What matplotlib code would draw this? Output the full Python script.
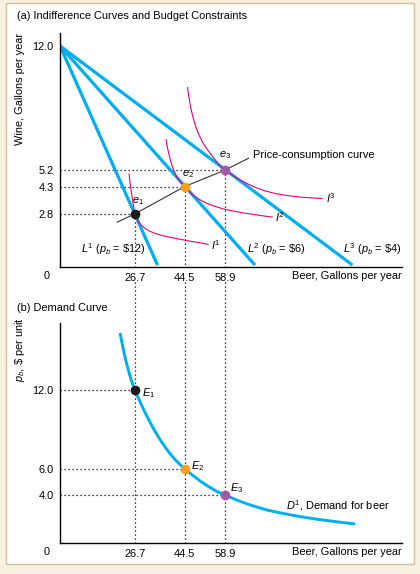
import matplotlib.pyplot as plt
from matplotlib.patches import Rectangle

plt.rcParams["font.family"] = ["Liberation Sans", "DejaVu Sans"]
plt.rcParams["mathtext.fontset"] = "custom"
plt.rcParams["mathtext.rm"] = "Liberation Sans"
plt.rcParams["mathtext.it"] = "Liberation Sans:italic"

# ---- panel (a) data ----
wine_max = 12.0
prices = [12, 6, 4]
beer_q = [26.7, 44.5, 58.9]
wine_q = [2.8, 4.3, 5.2]
beer_intercepts = [34.8, 69.6, 104.4]

i1_beer = [24.64, 25.11, 25.57, 26.0, 26.39, 26.7, 27.25, 27.96, 28.93, 30.18, 31.79,
           33.93, 36.43, 39.29, 42.86, 46.43, 50.0, 52.86]
i1_wine = [4.98, 4.38, 3.89, 3.48, 3.11, 2.80, 2.58, 2.38, 2.20, 2.03, 1.87,
           1.73, 1.62, 1.52, 1.41, 1.31, 1.22, 1.13]
i2_beer = [37.86, 38.39, 39.04, 39.82, 40.79, 41.89, 43.14, 44.5, 45.89, 47.5, 49.64,
           52.14, 55.0, 58.21, 61.79, 65.71, 70.0, 73.57, 75.71]
i2_wine = [6.87, 6.41, 5.97, 5.53, 5.12, 4.76, 4.53, 4.30, 4.06, 3.83, 3.60,
           3.40, 3.23, 3.08, 2.96, 2.85, 2.75, 2.67, 2.63]
i3_beer = [45.54, 46.07, 46.71, 47.5, 48.46, 49.64, 51.07, 52.75, 54.64, 56.79, 58.9,
           61.07, 63.57, 66.43, 69.64, 73.21, 77.14, 81.43, 86.07, 90.71, 93.57]
i3_wine = [9.72, 9.15, 8.60, 8.08, 7.58, 7.12, 6.68, 6.30, 5.91, 5.50, 5.20,
           4.97, 4.73, 4.49, 4.26, 4.06, 3.91, 3.80, 3.72, 3.67, 3.64]

pcc_beer = [20.4, 26.7, 44.5, 58.9, 67.3]
pcc_wine = [2.35, 2.8, 4.3, 5.2, 5.85]

# ---- panel (b) data ----
demand_beer = [21.43, 22.49, 23.54, 24.6, 25.66, 26.7, 28.49, 30.27, 32.05, 33.83, 35.61,
               37.39, 39.16, 40.94, 42.72, 44.5, 47.39, 50.27, 53.16, 56.04, 58.9,
               63.21, 67.86, 73.57, 79.64, 85.71, 91.79, 98.57, 105.36]
demand_price = [16.34, 15.21, 14.21, 13.35, 12.61, 12.0, 11.13, 10.32, 9.57, 8.88, 8.26,
                7.69, 7.18, 6.73, 6.34, 6.0, 5.49, 5.03, 4.62, 4.26, 4.0,
                3.60, 3.24, 2.87, 2.59, 2.35, 2.15, 1.96, 1.79]

BLUE = "#00AEEF"
PINK = "#E5007E"
DOT_COLORS = ["#1a1a1a", "#F7A11A", "#A05AA8"]
FS = 7.9
W, H = 420, 574

fig = plt.figure(figsize=(W / 100, H / 100), dpi=100)
fig.patch.set_facecolor("#F8F1DF")
fig.patches.append(Rectangle((6 / W, 1 - 564 / H), 408 / W, 561 / H, transform=fig.transFigure,
                             facecolor="white", edgecolor="#CBBF9F", lw=1, zorder=-10))


def px_axes(x0, x1, y0, y1):
    return fig.add_axes([x0 / W, 1 - y1 / H, (x1 - x0) / W, (y1 - y0) / H])


dot_kw = dict(color="black", lw=0.9, linestyle=(0, (1, 2.2)), zorder=1)

# ---------------- (a) ----------------
ax = px_axes(60, 402, 33, 266.7)
ax.set_xlim(0, 122.1)
ax.set_ylim(-0.09, 12.71)

for b in beer_intercepts:
    ax.plot([0, b], [wine_max, 0], color=BLUE, lw=2.3, solid_capstyle="butt", zorder=2)

for xs, ys in [(i1_beer, i1_wine), (i2_beer, i2_wine), (i3_beer, i3_wine)]:
    ax.plot(xs, ys, color=PINK, lw=0.8, zorder=3, solid_joinstyle="round")

ax.plot(pcc_beer, pcc_wine, color="#333333", lw=0.8, zorder=3)

for q, w, c in zip(beer_q, wine_q, DOT_COLORS):
    ax.plot([0, q], [w, w], **dot_kw)
    ax.plot([q, q], [w, -0.09], **dot_kw)
    ax.plot(q, w, "o", color=c, ms=6, zorder=5)

ax.text(28.0, 3.5, r"$e_1$", fontsize=FS, ha="center", va="center")
ax.text(45.8, 4.98, r"$e_2$", fontsize=FS, ha="center", va="center")
ax.text(58.9, 6.0, r"$e_3$", fontsize=FS, ha="center", va="center")
ax.text(68.8, 6.02, "Price-consumption curve", fontsize=FS, ha="left", va="center")
ax.text(54.0, 1.08, r"$I^1$", fontsize=FS, ha="left", va="center")
ax.text(76.8, 2.6, r"$I^2$", fontsize=FS, ha="left", va="center")
ax.text(95.0, 3.68, r"$I^3$", fontsize=FS, ha="left", va="center")
ax.text(7.6, 0.88, r"$L^1$ ($p_b$ = \$12)", fontsize=FS, ha="left", va="center")
ax.text(66.8, 0.85, r"$L^2$ ($p_b$ = \$6)", fontsize=FS, ha="left", va="center")
ax.text(101.2, 0.85, r"$L^3$ ($p_b$ = \$4)", fontsize=FS, ha="left", va="center")

ax.set_yticks([wine_max] + wine_q)
ax.set_yticklabels([f"{v:.1f}" for v in [wine_max] + wine_q])
ax.set_xticks(beer_q)
ax.set_xticklabels([f"{v:.1f}" for v in beer_q])

# ---------------- (b) ----------------
bx = px_axes(60, 402, 323, 543)
bx.set_xlim(0, 122.1)
bx.set_ylim(0.34, 17.1)

bx.plot(demand_beer, demand_price, color=BLUE, lw=2.1, solid_capstyle="butt",
        solid_joinstyle="round", zorder=2)
for q, p, c in zip(beer_q, prices, DOT_COLORS):
    bx.plot([0, q], [p, p], **dot_kw)
    l, = bx.plot([q, q], [20.2, 0.34], **dot_kw)
    l.set_clip_on(False)
    bx.plot(q, p, "o", color=c, ms=6, zorder=5)

bx.text(29.2, 11.75, r"$E_1$", fontsize=FS, ha="left", va="center")
bx.text(46.7, 6.2, r"$E_2$", fontsize=FS, ha="left", va="center")
bx.text(60.7, 4.55, r"$E_3$", fontsize=FS, ha="left", va="center")
bx.text(80.7, 3.2, r"$D^1$, Demand for beer", fontsize=FS, ha="left", va="center")

bx.set_yticks(prices)
bx.set_yticklabels([f"{v:.1f}" for v in prices])
bx.set_xticks(beer_q)
bx.set_xticklabels([f"{v:.1f}" for v in beer_q])

for a in (ax, bx):
    for s in ("top", "right"):
        a.spines[s].set_visible(False)
    for s in ("left", "bottom"):
        a.spines[s].set_linewidth(1.0)
    a.tick_params(length=0, labelsize=FS, pad=4.5)
    a.text(-0.03, -0.02, "0", transform=a.transAxes, fontsize=FS, ha="right", va="top")
    a.text(1.0, -0.02, "Beer, Gallons per year", transform=a.transAxes, fontsize=FS,
           ha="right", va="top")
    a.set_facecolor("none")

fig.text(17 / W, 1 - 16 / H, "(a) Indifference Curves and Budget Constraints", fontsize=FS,
         ha="left", va="center")
fig.text(17 / W, 1 - 308 / H, "(b) Demand Curve", fontsize=FS, ha="left", va="center")
fig.text(20 / W, 1 - 89 / H, "Wine, Gallons per year", fontsize=FS, rotation=90,
         ha="center", va="center")
fig.text(20 / W, 1 - 350 / H, r"$p_b$, \$ per unit", fontsize=FS, rotation=90,
         ha="center", va="center")

fig.savefig("out.png", dpi=100, facecolor=fig.get_facecolor())
